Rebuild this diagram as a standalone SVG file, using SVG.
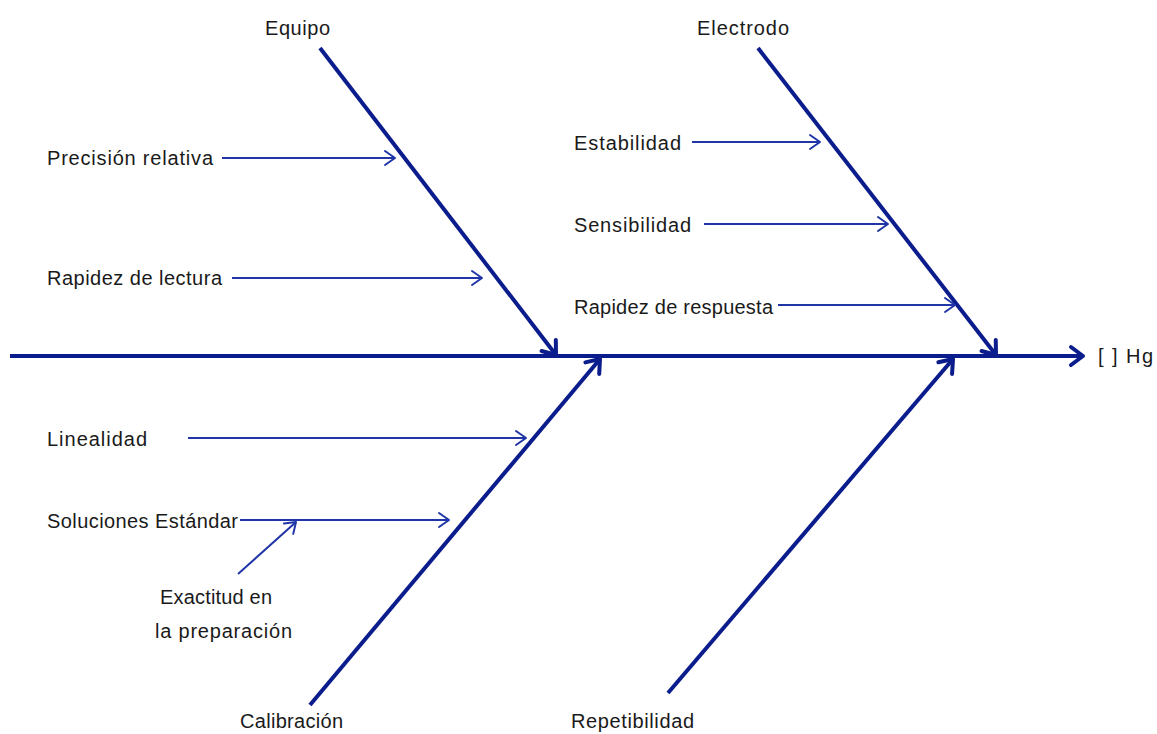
<svg xmlns="http://www.w3.org/2000/svg" width="1157" height="734" viewBox="0 0 1157 734">
<defs>
<style>
.bone{stroke:#0b1c8c;stroke-width:4;fill:none;marker-end:url(#big)}
.sub{stroke:#1f35a8;stroke-width:2;fill:none;marker-end:url(#small)}
text{font-family:"Liberation Sans",Arial,sans-serif;font-size:20px;fill:#1a1a1a}
</style>
<marker id="big" markerUnits="userSpaceOnUse" viewBox="-16 -12 20 24" refX="0" refY="0" markerWidth="20" markerHeight="24" orient="auto" overflow="visible">
<path d="M-12,-9 L0,0 L-12,9" fill="none" stroke="#0b1c8c" stroke-width="4" stroke-linecap="round" stroke-linejoin="round"/>
</marker>
<marker id="small" markerUnits="userSpaceOnUse" viewBox="-12 -9 14 18" refX="0" refY="0" markerWidth="14" markerHeight="18" orient="auto" overflow="visible">
<path d="M-10,-7 L0,0 L-10,7" fill="none" stroke="#1f35a8" stroke-width="2" stroke-linecap="round" stroke-linejoin="round"/>
</marker>
</defs>
<rect width="1157" height="734" fill="#ffffff"/>
<g id="connectors">
<line class="bone" x1="10" y1="356" x2="1083" y2="356"/>
<line class="bone" x1="320" y1="48" x2="556" y2="355"/>
<line class="bone" x1="758" y1="48" x2="996" y2="355"/>
<line class="bone" x1="310" y1="705" x2="600" y2="359"/>
<line class="bone" x1="668" y1="693" x2="953" y2="359"/>
<line class="sub" x1="222" y1="158" x2="395" y2="158"/>
<line class="sub" x1="232" y1="278" x2="482" y2="278"/>
<line class="sub" x1="692" y1="142" x2="820" y2="142"/>
<line class="sub" x1="704" y1="224" x2="888" y2="224"/>
<line class="sub" x1="778" y1="305" x2="955" y2="305"/>
<line class="sub" x1="188" y1="438" x2="526" y2="438"/>
<line class="sub" x1="240" y1="520" x2="449" y2="520"/>
<line class="sub" x1="238" y1="574" x2="296" y2="522"/>
</g>
<g id="equipo"><text x="265" y="35" textLength="65">Equipo</text></g>
<g id="electrodo"><text x="697" y="35" textLength="92">Electrodo</text></g>
<g id="calibracion"><text x="240" y="728" textLength="103">Calibración</text></g>
<g id="repetibilidad"><text x="571" y="728" textLength="123">Repetibilidad</text></g>
<g id="hg"><text x="1098" y="363" textLength="55">[ ] Hg</text></g>
<g id="precision"><text x="47" y="165" textLength="166">Precisión relativa</text></g>
<g id="rapidez-lectura"><text x="47" y="285" textLength="175">Rapidez de lectura</text></g>
<g id="estabilidad"><text x="574" y="150" textLength="107">Estabilidad</text></g>
<g id="sensibilidad"><text x="574" y="232" textLength="117">Sensibilidad</text></g>
<g id="rapidez-respuesta"><text x="574" y="314" textLength="199">Rapidez de respuesta</text></g>
<g id="linealidad"><text x="47" y="446" textLength="100">Linealidad</text></g>
<g id="soluciones"><text x="47" y="528" textLength="191">Soluciones Estándar</text></g>
<g id="exactitud"><text x="160" y="604" textLength="112">Exactitud en</text><text x="155" y="638" textLength="137">la preparación</text></g>
</svg>
